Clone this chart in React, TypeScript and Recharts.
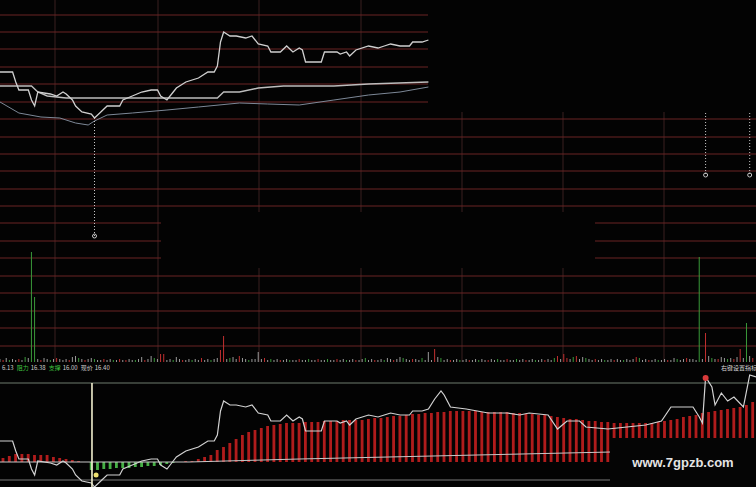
import React from "react";
import {
  ComposedChart,
  Line,
  Bar,
  Cell,
  XAxis,
  YAxis,
  CartesianGrid,
  ReferenceLine,
  ReferenceDot,
} from "recharts";

const W = 756;
const H = 487;

// intraday price, minute index (0-240) and price
const priceMinutes = [
  0, 4, 5, 6, 9, 10, 11, 12, 16, 18, 20, 21, 23, 24, 26, 29, 30, 32, 34, 38,
  39, 42, 45, 48, 50, 51, 53, 55, 56, 59, 63, 66, 68, 69, 70, 71, 73, 75, 78, 80,
  82, 85, 86, 89, 91, 93, 95, 96, 97, 102, 103, 107, 108, 110, 111, 113, 117, 120, 122, 124,
  127, 130, 131, 134, 136, 138, 140, 141, 142, 143, 148, 155, 161, 165, 168, 174, 177, 180, 184, 186,
  193, 199, 205, 210, 213, 220, 222, 223, 224, 226, 227, 229, 231, 233, 236, 238, 240,
];
const priceValues = [
  16.24, 16.24, 16.19, 16.15, 16.15, 16.1, 16.07, 16.14, 16.13, 16.12, 16.14, 16.13, 16.1, 16.07, 16.04, 16.03, 16.01, 16.04, 16.07, 16.07,
  16.1, 16.12, 16.14, 16.15, 16.15, 16.12, 16.1, 16.14, 16.16, 16.19, 16.21, 16.24, 16.24, 16.27, 16.39, 16.44, 16.42, 16.42, 16.41, 16.42,
  16.38, 16.37, 16.34, 16.34, 16.37, 16.34, 16.36, 16.35, 16.29, 16.29, 16.34, 16.34, 16.33, 16.34, 16.32, 16.35, 16.37, 16.36, 16.37, 16.38,
  16.37, 16.37, 16.39, 16.39, 16.4, 16.45, 16.49, 16.47, 16.44, 16.41, 16.4, 16.38, 16.38, 16.37, 16.38, 16.37, 16.3, 16.34, 16.34, 16.31,
  16.3, 16.31, 16.32, 16.34, 16.41, 16.41, 16.36, 16.33, 16.56, 16.51, 16.42, 16.48, 16.44, 16.46, 16.41, 16.57, 16.56,
];

// average price line (top panel)
const avgMinutes = [0, 4, 10, 12, 15, 21, 42, 69, 71, 76, 82, 90, 106, 117, 136];
const avgValues = [16.17, 16.17, 16.17, 16.14, 16.12, 16.11, 16.11, 16.11, 16.14, 16.14, 16.16, 16.17, 16.17, 16.18, 16.19];

// reference index line (top panel)
const idxMinutes = [0, 6, 13, 19, 24, 28, 30, 34, 42, 53, 63, 76, 85, 95, 106, 117, 127, 136];
const idxValues = [16.09, 16.035, 16.015, 16.01, 15.985, 15.975, 15.995, 16.025, 16.035, 16.05, 16.065, 16.085, 16.08, 16.075, 16.1, 16.125, 16.14, 16.165];

// volume per minute (lots)
const volumes = [
  300, 200, 400, 200, 300, 200, 300, 200, 500, 400, 11000, 6500, 300, 200, 400, 300, 200, 300, 400, 300,
  200, 300, 200, 500, 600, 400, 300, 200, 300, 400, 300, 200, 200, 300, 200, 300, 200, 200, 300, 200,
  200, 300, 200, 200, 300, 500, 200, 300, 600, 400, 300, 800, 800, 200, 300, 200, 500, 300, 200, 200,
  300, 200, 300, 200, 400, 200, 300, 200, 300, 400, 1200, 2600, 300, 400, 500, 300, 600, 400, 300, 200,
  300, 300, 1000, 300, 400, 200, 300, 200, 300, 200, 200, 300, 200, 200, 200, 300, 200, 200, 300, 200,
  200, 300, 200, 200, 300, 200, 200, 300, 200, 300, 200, 200, 300, 200, 200, 300, 400, 200, 300, 200,
  200, 300, 200, 400, 300, 200, 300, 500, 400, 300, 200, 300, 300, 200, 400, 200, 1000, 200, 1300, 500,
  400, 200, 300, 200, 200, 300, 200, 200, 300, 200, 200, 300, 200, 300, 200, 200, 300, 200, 300, 200,
  200, 300, 200, 200, 300, 200, 300, 200, 200, 300, 200, 200, 300, 200, 300, 200, 400, 600, 300, 800,
  400, 300, 500, 600, 300, 500, 400, 300, 200, 300, 200, 300, 200, 200, 300, 200, 300, 200, 200, 300,
  200, 300, 500, 400, 200, 300, 200, 200, 300, 200, 200, 300, 200, 200, 400, 300, 200, 300, 400, 300,
  300, 200, 10500, 300, 2900, 600, 400, 300, 300, 500, 400, 300, 400, 300, 500, 1300, 400, 3900, 600, 400,
];
const volColors =
  "wrwgwwrwgwggwrwwgwrw" +
  "wwrwwgwrwwgwwrwwgwrw" +
  "rwwgwwrwwgwrrwwgwwrw" +
  "wgwwrwwgwwrrwgwwrwwg" +
  "wwwwrwgwwrwwgwwrwwgw" +
  "wrwwgwwrwwgwwrwwgwwr" +
  "wwgwwrwwgwwrwwgwwwrw" +
  "gwwrwwgwwrwwgwwrwwgw" +
  "wrwwgwwrwwgwwrwwgrwr" +
  "rwgrwwgwwrwwgwwrwwgw" +
  "wwrgwwrwwgwwrwwgwwrw" +
  "wwgwrwgwrwwgwrwrwgwr";

// indicator bars, one per 2 minutes
const macdValues = [
  0.04, 0.06, 0.08, 0.08, 0.08, 0.07, 0.07, 0.07, 0.05, 0.04, 0.03, 0.02, 0.01, 0,
  -0.08, -0.08, -0.07, -0.07, -0.06, -0.06, -0.06, -0.05, -0.05, -0.04, -0.04, -0.03, -0.02, -0.01, 0,
  0.01, 0.01, 0.03, 0.05, 0.07, 0.12, 0.15, 0.19, 0.23, 0.27, 0.3, 0.32, 0.34, 0.36, 0.37, 0.38, 0.39,
  0.39, 0.39, 0.4, 0.4, 0.4, 0.41, 0.41, 0.41, 0.42, 0.42, 0.42, 0.42, 0.43, 0.44, 0.44, 0.45, 0.46, 0.46,
  0.47, 0.48, 0.48, 0.49, 0.49, 0.5, 0.5, 0.51, 0.51, 0.51, 0.51, 0.51, 0.5, 0.5, 0.5, 0.5, 0.5, 0.49,
  0.49, 0.48, 0.48, 0.47, 0.47, 0.46, 0.45, 0.44, 0.43, 0.43, 0.42, 0.41, 0.41, 0.4, 0.4, 0.39, 0.39, 0.39,
  0.39, 0.39, 0.39, 0.39, 0.4, 0.41, 0.42, 0.43, 0.45, 0.46, 0.47, 0.49, 0.5, 0.51, 0.52, 0.53, 0.54, 0.55,
  0.57, 0.6,
];

// indicator signal line
const signalMinutes = [0, 60, 95, 194, 240];
const signalValues = [0, 0, 0.03, 0.1, 0.14];

const gridRowsY = [15, 32, 49, 67, 84, 102, 119, 137, 154, 171, 189, 206, 223, 241, 258, 276, 293, 311, 328, 346];
const gridColsX = [55, 158, 259, 361, 462, 563, 664];

const toRows = (ms: number[], vs: number[]) => ms.map((m, i) => ({ m, v: vs[i] }));

const priceRows = toRows(priceMinutes, priceValues);
const priceTopRows = priceRows.filter((r) => r.m <= 136);
const avgRows = toRows(avgMinutes, avgValues);
const idxRows = toRows(idxMinutes, idxValues);
const signalRows = toRows(signalMinutes, signalValues);
const volumeRows = volumes.map((v, m) => ({ m, v, c: volColors[m] }));
const macdRows = macdValues.map((v, i) => ({ m: 2 * i + 1, v }));

const VOL_COLORS: Record<string, string> = { r: "#c23030", g: "#3a9a3a", w: "#9a9a9a" };
const BG = "#030303";
const noMargin = { top: 0, right: 0, bottom: 0, left: 0 };

const layer: React.CSSProperties = { position: "absolute", left: 0, top: 0 };

export default function App() {
  return (
    <div
      style={{
        position: "absolute",
        left: 0,
        top: 0,
        width: W,
        height: H,
        background: BG,
        overflow: "hidden",
        fontFamily: '"Noto Sans CJK SC", "Noto Sans", sans-serif',
      }}
    >
      <style>{"body{margin:0;background:#000}"}</style>

      {/* grid + volume */}
      <div style={layer}>
        <ComposedChart width={W} height={362} data={volumeRows} margin={noMargin}>
          <XAxis dataKey="m" type="number" domain={[0, 240]} hide allowDataOverflow />
          <YAxis type="number" domain={[0, 36200]} hide allowDataOverflow />
          <CartesianGrid horizontal={false} verticalPoints={gridColsX} stroke="#3a2020" />
          <CartesianGrid vertical={false} horizontalPoints={gridRowsY} stroke="#6a2424" />
          <Bar dataKey="v" barSize={1} isAnimationActive={false}>
            {volumeRows.map((r) => (
              <Cell key={r.m} fill={VOL_COLORS[r.c]} />
            ))}
          </Bar>
        </ComposedChart>
      </div>

      {/* blanked areas of the screenshot */}
      <div style={{ position: "absolute", left: 428, top: 0, width: 328, height: 112, background: BG }} />
      <div style={{ position: "absolute", left: 161, top: 212, width: 434, height: 56, background: BG }} />

      {/* price panels + indicator */}
      <div style={layer}>
        <ComposedChart width={W} height={H} data={macdRows} margin={noMargin}>
          <XAxis dataKey="m" type="number" domain={[0, 240]} hide allowDataOverflow />
          <YAxis yAxisId="top" type="number" domain={[14.165, 16.6]} hide allowDataOverflow />
          <YAxis yAxisId="low" type="number" domain={[16.01, 18.445]} hide allowDataOverflow />
          <YAxis yAxisId="ind" type="number" domain={[-0.25, 4.62]} hide allowDataOverflow />

          <ReferenceLine yAxisId="ind" y={0.79} stroke="#6f7d6f" strokeWidth={1.2} />
          <ReferenceLine yAxisId="ind" y={-0.18} stroke="#7a7a7a" strokeWidth={1.2} />

          <Bar yAxisId="ind" dataKey="v" barSize={5} isAnimationActive={false}>
            {macdRows.map((r) => (
              <Cell key={r.m} fill={r.v >= 0 ? "#b01c1c" : "#46b046"} />
            ))}
          </Bar>

          <Line yAxisId="ind" data={signalRows} dataKey="v" stroke="#c8c8c8" strokeWidth={1} dot={false} activeDot={false} isAnimationActive={false} />
          <Line yAxisId="low" data={priceRows} dataKey="v" stroke="#d2d2d2" strokeWidth={1.2} dot={false} activeDot={false} isAnimationActive={false} />

          <Line yAxisId="top" data={idxRows} dataKey="v" stroke="#7d8897" strokeWidth={1} dot={false} activeDot={false} isAnimationActive={false} />
          <Line yAxisId="top" data={avgRows} dataKey="v" stroke="#bdbdbd" strokeWidth={1.4} dot={false} activeDot={false} isAnimationActive={false} />
          <Line yAxisId="top" data={priceTopRows} dataKey="v" stroke="#d0d0d0" strokeWidth={1.3} dot={false} activeDot={false} isAnimationActive={false} />

          {/* dotted markers */}
          <ReferenceLine yAxisId="top" segment={[{ x: 30, y: 16.01 }, { x: 30, y: 15.42 }]} stroke="#c8c8c8" strokeDasharray="1 2" />
          <ReferenceDot yAxisId="top" x={30} y={15.42} r={2} fill="none" stroke="#c8c8c8" />
          <ReferenceLine yAxisId="top" segment={[{ x: 224, y: 16.035 }, { x: 224, y: 15.725 }]} stroke="#c8c8c8" strokeDasharray="1 2" />
          <ReferenceDot yAxisId="top" x={224} y={15.725} r={2} fill="none" stroke="#c8c8c8" />
          <ReferenceLine yAxisId="top" segment={[{ x: 238, y: 16.035 }, { x: 238, y: 15.725 }]} stroke="#c8c8c8" strokeDasharray="1 2" />
          <ReferenceDot yAxisId="top" x={238} y={15.725} r={2} fill="none" stroke="#c8c8c8" />

          {/* cursor */}
          <ReferenceLine
            yAxisId="ind"
            segment={[{ x: 29.2, y: 0.79 }, { x: 29.2, y: -0.25 }]}
            stroke="#f2efcf"
            strokeWidth={1.6}
          />
          <ReferenceDot yAxisId="ind" x={30.5} y={-0.13} r={2.5} fill="#efe070" stroke="none" />
          <ReferenceDot yAxisId="low" x={224} y={16.555} r={3} fill="#d83a3a" stroke="none" />
        </ComposedChart>
      </div>

      {/* info row */}
      <div
        style={{
          position: "absolute",
          left: 2,
          top: 364,
          fontSize: 6,
          lineHeight: "8px",
          color: "#cfcfcf",
          whiteSpace: "pre",
        }}
      >
        <span>6.13</span>
        <span style={{ color: "#3fc23f", marginLeft: 3 }}>阻力</span>
        <span style={{ marginLeft: 2 }}>16.38</span>
        <span style={{ color: "#3fc23f", marginLeft: 3 }}>支撑</span>
        <span style={{ marginLeft: 2 }}>16.00</span>
        <span style={{ marginLeft: 3 }}>现价</span>
        <span style={{ marginLeft: 2 }}>16.40</span>
      </div>
      <div
        style={{
          position: "absolute",
          left: 721,
          top: 364,
          fontSize: 6,
          lineHeight: "8px",
          color: "#d8d8d8",
          whiteSpace: "pre",
        }}
      >
        右键设置指标
      </div>

      {/* watermark */}
      <div
        style={{
          position: "absolute",
          left: 610,
          top: 438,
          width: 146,
          height: 49,
          background: "#050505",
          display: "flex",
          alignItems: "center",
          justifyContent: "center",
          color: "#e4e4e4",
          fontFamily: '"Liberation Sans", Arial, sans-serif',
          fontWeight: "bold",
          fontSize: 13,
        }}
      >
        www.7gpzb.com
      </div>
    </div>
  );
}
